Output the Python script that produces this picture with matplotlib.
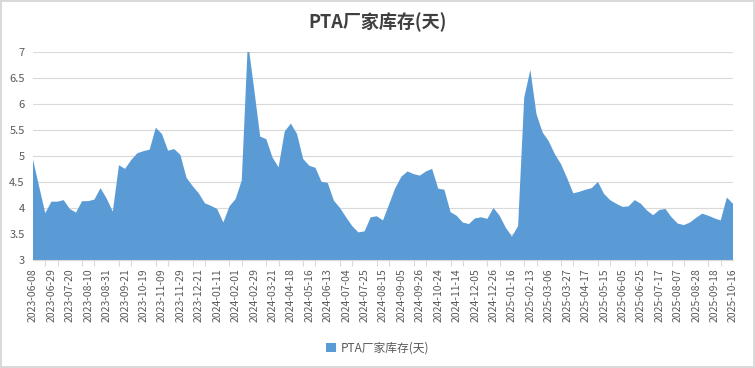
import matplotlib
matplotlib.use("Agg")
import matplotlib.pyplot as plt
import numpy as np

plt.rcParams['font.family'] = ['Noto Sans CJK SC', 'DejaVu Sans']

title = "PTA厂家库存(天)"
series_name = "PTA厂家库存(天)"

tick_labels = [
    "2023-06-08", "2023-06-29", "2023-07-20", "2023-08-10", "2023-08-31",
    "2023-09-21", "2023-10-19", "2023-11-09", "2023-11-29", "2023-12-21",
    "2024-01-11", "2024-02-01", "2024-02-29", "2024-03-21", "2024-04-18",
    "2024-05-16", "2024-06-13", "2024-07-04", "2024-07-25", "2024-08-15",
    "2024-09-05", "2024-09-26", "2024-10-24", "2024-11-14", "2024-12-05",
    "2024-12-26", "2025-01-16", "2025-02-13", "2025-03-06", "2025-03-27",
    "2025-04-17", "2025-05-15", "2025-06-05", "2025-06-25", "2025-07-17",
    "2025-08-07", "2025-08-28", "2025-09-18", "2025-10-16",
]

values = [
    4.93, 4.41, 3.90, 4.12, 4.12, 4.15, 3.98, 3.91, 4.13, 4.13,
    4.16, 4.38, 4.18, 3.93, 4.82, 4.75, 4.92, 5.05, 5.09, 5.12,
    5.54, 5.42, 5.10, 5.13, 5.02, 4.58, 4.42, 4.28, 4.09, 4.04,
    3.98, 3.72, 4.03, 4.17, 4.53, 7.20, 6.30, 5.37, 5.32, 4.97,
    4.78, 5.47, 5.62, 5.42, 4.94, 4.81, 4.77, 4.50, 4.48, 4.14,
    4.00, 3.82, 3.65, 3.53, 3.55, 3.82, 3.84, 3.76, 4.07, 4.38,
    4.60, 4.70, 4.65, 4.62, 4.70, 4.75, 4.37, 4.35, 3.92, 3.85,
    3.72, 3.69, 3.80, 3.82, 3.79, 4.00, 3.85, 3.62, 3.45, 3.65,
    6.12, 6.65, 5.80, 5.45, 5.28, 5.03, 4.84, 4.57, 4.28, 4.31,
    4.35, 4.38, 4.50, 4.27, 4.15, 4.08, 4.02, 4.03, 4.15, 4.08,
    3.95, 3.86, 3.96, 3.98, 3.82, 3.70, 3.67, 3.72, 3.81, 3.89,
    3.85, 3.80, 3.76, 4.20, 4.08,
]

y_ticks = [3, 3.5, 4, 4.5, 5, 5.5, 6, 6.5, 7]
y_tick_labels = ["3", "3.5", "4", "4.5", "5", "5.5", "6", "6.5", "7"]

fill_color = "#5B9BD5"
text_color = "#595959"
grid_color = "#D9D9D9"

fig = plt.figure(figsize=(7.55, 3.68), dpi=100)
fig.patch.set_facecolor("white")
fig.patch.set_edgecolor("#D9D9D9")
fig.patch.set_linewidth(1.5)

ax = fig.add_axes([33 / 755, 1 - 260 / 368, (733 - 33) / 755, (260 - 51.7) / 368])

x = np.arange(len(values))
ax.fill_between(x, values, 0, color=fill_color, linewidth=0, label=series_name)

ax.set_xlim(0, len(values) - 1)
ax.set_ylim(3, 7)

ax.set_yticks(y_ticks)
ax.set_yticklabels(y_tick_labels, fontsize=8, color=text_color)
ax.yaxis.grid(True, color=grid_color, linewidth=0.8)
ax.set_axisbelow(True)

major_pos = np.arange(0, len(values), 3)
ax.set_xticks(major_pos)
ax.set_xticklabels(tick_labels, rotation=90, fontsize=7.5, color=text_color)
ax.set_xticks(np.arange(0, len(values), 2), minor=True)
ax.tick_params(axis='x', which='major', length=0, pad=6)
ax.tick_params(axis='x', which='minor', length=4, color=grid_color, width=0.8)
ax.tick_params(axis='y', length=0, pad=6)

for s in ["top", "right", "left"]:
    ax.spines[s].set_visible(False)
ax.spines["bottom"].set_color(grid_color)
ax.spines["bottom"].set_linewidth(0.8)

fig.text(0.5, 1 - 22 / 368, title, ha="center", va="center",
         fontsize=13, fontweight="bold", color="#404040")

leg = fig.legend(loc="center", bbox_to_anchor=(0.5, 1 - 348 / 368), frameon=False,
                 fontsize=8.5, handlelength=0.8, handleheight=0.8, handletextpad=0.4)
for t in leg.get_texts():
    t.set_color(text_color)

fig.savefig("out.png", dpi=100, facecolor=fig.get_facecolor(), edgecolor=fig.get_edgecolor())
